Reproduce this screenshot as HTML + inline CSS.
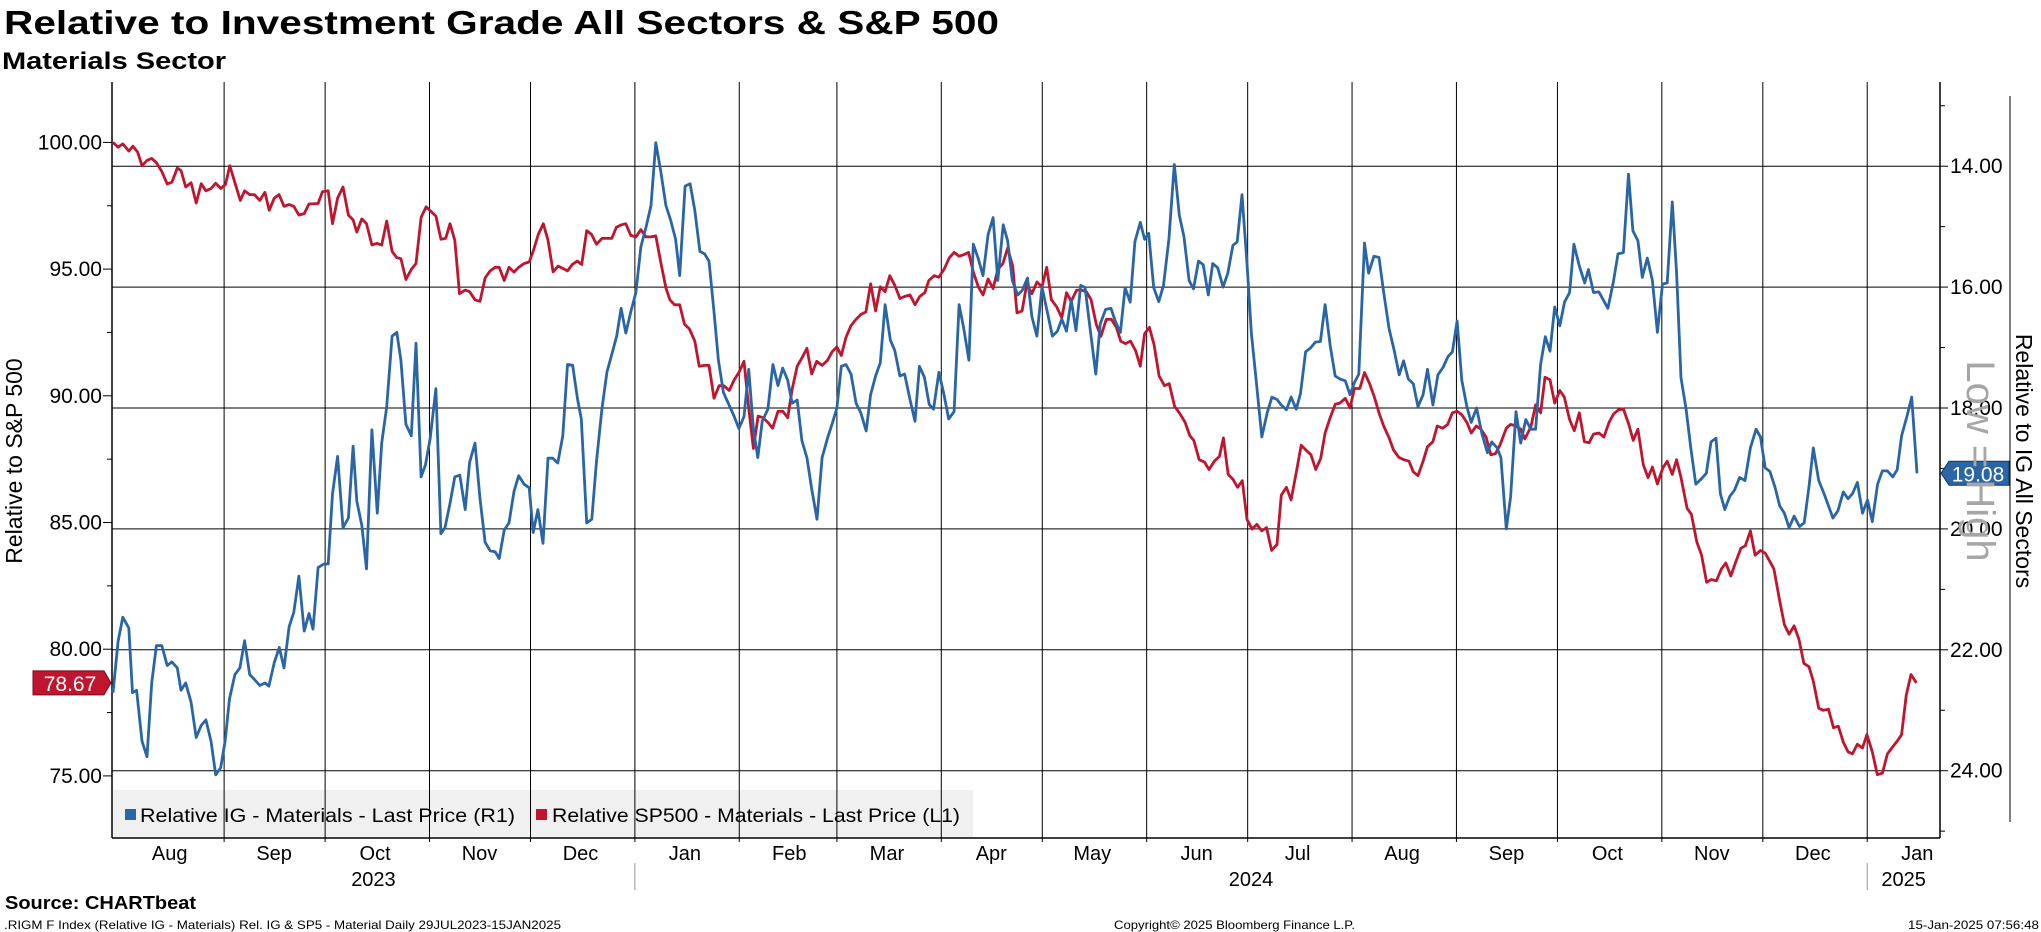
<!DOCTYPE html>
<html><head><meta charset="utf-8"><style>
html,body{margin:0;padding:0;background:#fff;}
svg{display:block;font-family:"Liberation Sans",sans-serif;}
</style></head><body>
<svg id="chart" width="2041" height="932" viewBox="0 0 2041 932" xmlns="http://www.w3.org/2000/svg">
<text x="4" y="34" font-size="33" font-weight="bold" textLength="995" lengthAdjust="spacingAndGlyphs">Relative to Investment Grade All Sectors &amp; S&amp;P 500</text>
<text x="2" y="69" font-size="24" font-weight="bold" textLength="224" lengthAdjust="spacingAndGlyphs">Materials Sector</text>
<rect x="113" y="790" width="860" height="47" fill="#f0f0f0"/>
<g id="grid"></g>
<g id="axes"></g>
<g id="series"></g>
<g>
<rect x="125" y="809" width="11" height="11" fill="#2a65a5"/>
<text x="140" y="822" font-size="19" textLength="375" lengthAdjust="spacingAndGlyphs">Relative IG - Materials - Last Price (R1)</text>
<rect x="536" y="809" width="11" height="11" fill="#c0152f"/>
<text x="552" y="822" font-size="19" textLength="408" lengthAdjust="spacingAndGlyphs">Relative SP500 - Materials - Last Price (L1)</text>
</g>
<text transform="translate(22,461) rotate(-90)" text-anchor="middle" font-size="23">Relative to S&amp;P 500</text>
<text transform="translate(2016,461) rotate(90)" text-anchor="middle" font-size="23">Relative to IG All Sectors</text>
<text transform="translate(1967,461) rotate(90)" text-anchor="middle" font-size="40" fill="#a6a6a6">Low = High</text>
<line x1="2010" y1="96" x2="2010" y2="822" stroke="#000" stroke-width="1"/>
<text x="5" y="909" font-size="18" font-weight="bold" textLength="191" lengthAdjust="spacingAndGlyphs">Source: CHARTbeat</text>
<text x="4" y="929" font-size="12" textLength="557" lengthAdjust="spacingAndGlyphs">.RIGM F Index (Relative IG - Materials) Rel. IG &amp; SP5 - Material  Daily 29JUL2023-15JAN2025</text>
<text x="1114" y="929" font-size="12" textLength="241" lengthAdjust="spacingAndGlyphs">Copyright© 2025 Bloomberg Finance L.P.</text>
<text x="1908" y="929" font-size="12" textLength="131" lengthAdjust="spacingAndGlyphs">15-Jan-2025 07:56:48</text>
</svg>
<script>
// Data: days since 2023-07-30, values
const blueDays = [0,1.5,2.9,4.7,5.8,7.0,8.6,10.1,11.5,12.9,14.5,16.1,17.5,19.1,20.2,21.6,23.2,24.7,26.2,27.6,29.1,30.5,32.0,33.3,34.6,36.2,37.7,39.1,40.6,42.0,43.6,45.1,46.3,47.9,49.4,50.8,52.3,53.7,55.2,56.8,58.2,59.4,60.9,62.6,63.9,65.2,66.7,68.3,69.9,71.3,72.4,73.9,75.3,76.9,78.5,79.8,81.3,82.9,84.3,85.5,87.0,88.6,90.0,91.5,92.8,94.2,95.9,97.4,98.6,100.1,101.5,103.0,104.6,105.9,107.5,109.0,110.5,112.0,113.5,114.7,116.2,117.6,119.1,120.5,122.1,123.6,124.8,126.2,127.7,129.2,130.6,132.1,133.6,135.0,136.5,138.0,139.1,140.7,142.2,143.6,145.2,146.7,148.1,149.6,150.9,152.3,153.8,155.3,156.8,158.3,159.8,161.2,162.7,164.2,165.6,167.1,168.3,169.9,171.4,172.8,174.3,175.7,177.0,178.5,179.8,181.3,182.9,184.5,185.9,187.4,188.8,190.2,191.5,192.8,194.5,196.0,197.5,198.9,200.4,201.7,203.2,204.6,206.1,207.5,209.1,210.6,212.2,213.6,215.0,216.3,217.7,219.2,220.7,222.1,223.7,225.0,226.5,227.9,229.3,230.9,232.2,233.7,235.1,236.7,238.2,239.5,241.0,242.4,243.7,245.3,246.8,248.2,249.8,251.3,252.7,254.2,255.5,257.0,258.4,259.9,261.4,262.8,264.4,265.7,267.1,268.7,270.1,271.6,272.9,274.4,275.9,277.5,279.0,280.5,281.8,283.2,284.6,286.0,287.4,288.7,290.3,291.9,293.2,294.8,296.4,297.7,299.2,300.6,302.1,303.5,305.1,306.4,307.6,309.1,310.6,312.0,313.6,315.2,316.7,318.1,319.6,320.9,322.4,323.8,325.3,326.6,328.1,329.7,331.1,332.6,333.9,335.3,336.8,338.1,339.6,341.2,342.8,344.2,345.7,347.0,348.5,349.9,351.4,352.7,354.2,355.6,357.1,358.6,360.0,361.5,363.0,364.4,366.0,367.4,368.7,370.0,371.7,372.9,374.5,376.0,377.4,379.0,380.5,382.0,383.3,384.7,386.2,387.6,389.1,390.4,392.0,393.5,395.0,396.5,397.8,399.2,400.6,402.1,403.4,405.0,406.6,408.2,409.5,411.1,412.2,413.8,415.1,416.7,418.1,419.6,421.1,422.5,424.0,425.4,426.8,428.2,429.7,431.1,432.6,433.9,435.5,437.1,438.2,439.7,441.3,444.0,445.6,447.0,448.6,450.1,451.4,452.9,454.2,455.7,457.2,458.7,460.2,461.6,463.1,464.4,465.7,467.2,468.6,470.1,471.6,473.2,474.6,476.1,477.4,478.7,480.2,481.6,483.1,484.7,486.3,488.0,489.3,490.7,492.1,493.6,495.0,496.4,497.8,499.3,500.9,502.3,503.7,505.0,506.6,508.0,509.4,510.8,512.3,513.9,515.3,516.6,518.1,519.6,521.1,522.5,524.1,525.5,527.0,528.6,529.9,531.2,532.8,534.2,535.8];
const blueValues = [22.71,21.86,21.46,21.64,22.71,22.67,23.51,23.77,22.55,21.93,21.93,22.26,22.20,22.30,22.67,22.55,22.87,23.45,23.25,23.16,23.51,24.07,23.95,23.51,22.81,22.41,22.30,21.85,22.41,22.49,22.59,22.55,22.60,22.21,21.96,22.30,21.62,21.38,20.78,21.69,21.40,21.66,20.64,20.58,20.58,19.42,18.80,19.98,19.82,18.63,19.54,19.94,20.66,18.36,19.74,18.58,17.98,16.81,16.75,17.21,18.27,18.46,16.93,19.14,18.94,18.50,17.68,20.08,19.98,19.58,19.14,19.11,19.68,18.90,18.58,19.50,20.22,20.36,20.38,20.49,20.02,19.90,19.38,19.12,19.26,19.32,20.06,19.68,20.24,18.83,18.83,18.91,18.46,17.28,17.29,17.86,18.18,19.90,19.84,18.88,18.02,17.41,17.12,16.81,16.35,16.76,16.41,16.09,15.33,15.01,14.65,13.61,14.09,14.65,14.89,15.21,15.81,14.33,14.29,14.73,15.41,15.45,15.57,16.41,17.21,17.74,17.94,18.14,18.34,18.14,17.36,18.34,18.82,18.22,18.02,17.28,17.63,17.34,17.54,17.92,17.87,18.54,18.82,19.34,19.84,18.82,18.50,18.26,18.00,17.31,17.28,17.44,17.92,18.08,18.38,17.78,17.47,17.25,16.29,16.88,17.05,17.47,17.44,17.86,18.22,17.31,17.49,17.94,18.02,17.41,17.78,18.18,18.06,16.29,16.69,17.21,15.29,15.53,15.81,15.13,14.85,15.89,14.97,15.23,15.89,16.13,16.05,15.85,16.49,16.81,16.00,16.41,16.81,16.73,16.53,16.73,16.21,16.72,15.97,16.01,16.73,17.44,16.61,16.37,16.35,16.57,16.75,16.01,16.25,15.25,14.93,15.21,15.11,16.01,16.24,15.97,15.21,13.97,14.81,15.17,15.89,16.03,15.57,15.63,16.13,15.61,15.68,16.00,15.77,15.31,15.25,14.47,15.61,16.77,17.58,18.48,18.08,17.82,17.86,17.95,18.03,17.82,18.02,17.76,17.07,17.01,16.91,16.90,16.29,16.97,17.47,17.52,17.55,17.78,17.58,17.44,15.27,15.77,15.49,15.51,16.09,16.69,17.04,17.45,17.22,17.52,17.60,17.98,17.78,17.36,17.95,17.45,17.33,17.15,17.07,16.56,17.54,17.98,18.24,18.00,18.43,18.74,18.56,18.66,18.82,20.00,19.47,18.06,18.58,18.19,18.35,18.35,17.28,16.82,17.06,16.33,16.64,16.25,16.09,15.29,15.65,15.93,15.71,16.09,16.08,16.35,15.92,15.45,15.43,14.13,15.07,15.23,15.84,15.52,15.89,16.75,15.95,15.93,14.59,15.77,17.50,18.02,18.66,19.26,19.18,19.08,18.56,18.50,19.42,19.68,19.46,19.36,19.15,19.20,18.66,18.35,18.48,18.99,19.05,19.31,19.62,19.74,19.98,19.79,19.96,19.90,19.30,18.66,19.20,19.39,19.60,19.82,19.70,19.39,19.50,19.42,19.23,19.74,19.52,19.88,19.26,19.04,19.04,19.14,19.02,18.46,18.14,17.82,19.08];
const redDays = [0,1.5,2.9,4.7,5.9,7.3,8.6,10.1,11.5,12.9,14.5,16.1,17.5,19.1,20.2,21.6,23.2,24.7,26.2,27.6,29.1,30.5,32.0,33.4,34.7,36.3,37.8,39.1,40.6,42.0,43.6,45.1,46.4,47.9,49.3,50.8,52.3,53.7,55.2,56.8,58.2,60.9,62.2,63.9,65.2,66.7,68.3,69.9,71.3,72.4,73.9,75.3,76.9,78.4,79.8,81.3,82.9,84.3,85.5,87.0,88.6,90.0,91.5,93.0,94.4,95.9,97.4,98.8,100.1,101.5,102.9,104.6,105.9,107.5,109.0,110.5,112.0,113.5,114.7,116.2,117.6,119.1,120.5,122.1,123.6,124.9,126.3,127.8,129.2,130.7,132.2,133.5,135.0,136.4,137.9,139.2,140.7,142.1,143.6,145.2,146.6,148.1,149.5,151.0,152.3,153.8,155.3,156.8,158.3,159.8,161.2,162.7,164.2,165.4,166.8,168.3,169.7,171.2,172.8,174.1,175.7,177.0,178.5,180.0,181.4,183.0,184.5,185.9,187.4,188.8,190.2,191.6,193.0,194.5,195.9,197.5,198.9,200.4,201.7,203.2,204.6,206.1,207.5,209.0,210.6,212.2,213.6,215.0,216.3,217.7,219.2,220.7,222.1,223.6,225.0,226.5,227.9,229.3,230.7,232.2,233.7,235.1,236.7,238.2,239.6,241.1,242.3,243.9,245.3,246.8,248.4,249.8,251.3,252.7,254.1,255.5,257.0,258.4,259.9,261.4,262.8,264.3,265.7,267.2,268.5,270.0,271.4,272.9,274.4,275.9,277.3,278.7,280.3,281.8,283.2,284.6,286.2,287.6,289.1,290.5,292.0,293.4,295.0,296.5,298.0,299.3,300.7,302.2,303.7,305.1,306.4,307.8,309.2,310.7,312.3,313.7,315.3,316.9,318.4,319.8,321.0,322.6,324.2,325.5,327.1,328.6,329.8,331.2,332.6,334.0,335.4,336.8,338.3,339.7,341.2,342.6,344.1,345.7,347.0,348.5,349.9,351.4,352.9,354.3,355.8,357.2,358.7,360.0,361.5,363.0,364.4,366.0,367.4,368.7,370.3,371.7,373.2,374.6,376.1,377.4,379.0,380.3,381.9,383.4,384.9,386.2,387.6,389.1,390.4,392.0,393.3,394.9,396.4,397.8,399.2,400.6,402.1,403.4,404.9,406.3,407.8,409.2,410.6,411.9,413.8,415.1,416.7,418.1,419.3,421.1,422.5,424.0,425.3,426.8,428.2,429.7,431.0,432.6,434.0,435.5,437.0,438.4,439.7,441.3,442.8,444.3,445.7,447.2,448.6,450.2,451.5,452.9,454.5,455.9,457.2,458.7,460.3,461.6,463.1,464.4,465.7,467.5,468.8,470.4,471.8,473.3,474.7,476.2,477.7,479.0,480.5,482.0,483.5,484.8,486.3,487.7,489.3,490.7,492.1,493.3,494.9,496.4,497.8,499.3,500.7,502.2,503.7,505.0,506.6,508.0,509.5,511.0,512.4,513.9,515.3,516.6,518.1,519.6,520.9,522.5,524.0,525.5,527.0,528.5,530.0,531.2,532.6,534.0,535.6];
const redValues = [100.0,99.81,99.94,99.66,99.85,99.62,99.08,99.29,99.37,99.20,98.85,98.36,98.43,98.99,98.89,98.24,98.41,97.61,98.37,98.09,98.18,98.39,98.18,98.34,99.08,98.37,97.71,98.09,97.94,97.94,97.71,98.03,97.32,97.80,97.94,97.48,97.55,97.48,97.13,97.19,97.57,97.59,98.05,98.09,96.79,97.80,98.24,97.13,96.94,96.46,96.98,96.79,95.95,96.02,95.95,96.90,95.70,95.45,95.41,94.59,94.99,95.22,97.04,97.46,97.28,97.09,96.18,96.21,96.79,96.14,94.03,94.17,94.11,93.79,93.73,94.65,94.93,95.07,95.07,94.55,95.07,94.88,95.07,95.22,95.28,95.74,96.37,96.79,96.14,94.89,95.12,95.03,94.93,95.18,95.32,95.18,96.52,96.37,95.98,96.21,96.21,96.21,96.65,96.75,96.79,96.33,96.27,96.56,96.27,96.27,96.31,95.26,94.26,93.79,93.59,93.59,92.83,92.64,92.16,91.17,91.20,91.20,89.90,90.40,90.40,90.21,90.63,90.92,91.36,89.52,87.92,89.20,89.14,88.95,88.72,89.39,89.39,89.14,90.25,91.17,91.49,91.87,90.86,91.36,91.20,91.40,91.74,91.93,91.59,92.31,92.77,93.02,93.21,93.31,94.42,93.35,94.30,94.11,94.74,94.36,93.84,93.92,93.98,93.59,93.92,94.07,94.55,94.74,94.68,94.99,95.45,95.66,95.51,95.57,95.66,94.88,94.30,93.98,94.61,94.23,94.99,95.22,95.83,95.12,93.27,93.35,94.42,94.03,94.49,94.30,95.07,93.79,93.50,93.08,94.07,93.73,94.17,94.17,94.11,93.79,92.83,92.35,93.02,93.02,92.70,92.16,92.06,92.16,91.78,91.17,92.45,92.70,92.01,90.78,90.40,90.48,89.58,89.29,88.95,88.43,88.24,87.48,87.38,87.09,87.42,87.61,88.34,86.90,86.71,86.39,86.65,85.12,84.74,84.93,84.67,84.80,83.90,84.13,86.08,86.39,85.89,86.96,88.05,87.86,87.67,87.09,87.53,88.53,89.14,89.67,89.71,89.90,89.52,90.29,90.29,90.92,90.48,89.96,89.29,88.81,88.34,87.86,87.57,87.48,87.42,87.00,86.85,87.42,87.99,88.19,88.81,88.72,88.87,89.33,89.39,89.25,88.95,88.53,88.81,88.68,88.37,87.67,87.72,88.05,88.72,88.87,88.81,88.68,88.30,88.76,89.64,89.33,90.73,90.63,89.71,90.21,89.96,89.06,88.62,89.33,88.19,88.15,88.49,88.53,88.37,88.95,89.29,89.45,89.48,88.87,88.24,88.68,87.28,86.77,87.19,86.52,87.15,87.42,86.90,87.48,86.77,85.56,85.32,84.23,83.71,82.64,82.75,82.70,83.17,83.40,82.89,83.46,83.98,84.08,84.67,83.71,83.90,83.79,83.46,83.17,81.99,80.97,80.59,80.92,80.40,79.44,79.31,78.74,77.67,77.59,77.63,76.90,76.96,76.33,75.95,75.87,76.25,76.10,76.63,75.95,75.05,75.11,75.87,76.14,76.39,76.63,78.20,79.00,78.67];
const leftTicks = [75,80,85,90,95,100];
const rightTicks = [14,16,18,20,22,24];
const monthNames = ["Aug","Sep","Oct","Nov","Dec","Jan","Feb","Mar","Apr","May","Jun","Jul","Aug","Sep","Oct","Nov","Dec","Jan"];
const yearLabels = ["2023","2024","2025"];

const NS = "http://www.w3.org/2000/svg";
const L = 112, R = 1940, TOP = 82, BOT = 838;
const x = d => 113 + d * 3.367;
const yL = v => 142.4 + (100 - v) * 25.34;
const yR = v => 166.2 + (v - 14) * 60.45;
const t0 = Date.UTC(2023, 6, 30);
const dayOf = (y, m) => (Date.UTC(y, m, 1) - t0) / 86400000;
function el(tag, attrs, parent) {
  const e = document.createElementNS(NS, tag);
  for (const k in attrs) e.setAttribute(k, attrs[k]);
  parent.appendChild(e);
  return e;
}
const grid = document.getElementById('grid');
const axes = document.getElementById('axes');
const series = document.getElementById('series');

// horizontal gridlines (right axis majors)
rightTicks.forEach(v => {
  const g = el('line', {x1: L, x2: R, y1: yR(v), y2: yR(v), stroke: '#000', 'stroke-width': 1}, grid);
  
  
  const t = el('line', {x1: R, x2: R + 8, y1: yR(v), y2: yR(v), stroke: '#000', 'stroke-width': 1}, axes);
  
  
  const lb = el('text', {x: 1950, y: yR(v) + 7, 'font-size': 21}, axes);
  lb.textContent = v.toFixed(2);
  
  
  const mt = el('line', {x1: R, x2: R + 5, y1: yR(v - 1), y2: yR(v - 1), stroke: '#000', 'stroke-width': 1}, axes);
  
  
});
const mt2 = el('line', {x1: R, x2: R + 5, y1: yR(25), y2: yR(25), stroke: '#000', 'stroke-width': 1}, axes);



leftTicks.forEach(v => {
  const t = el('line', {x1: L - 9, x2: L, y1: yL(v), y2: yL(v), stroke: '#000', 'stroke-width': 1}, axes);
  
  
  const lb = el('text', {x: 102, y: yL(v) + 7, 'font-size': 21, 'text-anchor': 'end'}, axes);
  lb.textContent = v.toFixed(2);
  
  
  if (v < 100) {
    const m = el('line', {x1: L - 5, x2: L, y1: yL(v + 2.5), y2: yL(v + 2.5), stroke: '#000', 'stroke-width': 1}, axes);
    
    
  }
});

// month gridlines and labels
for (let i = 0; i < monthNames.length; i++) {
  const yr = 2023 + Math.floor((7 + i) / 12);
  const mo = (7 + i) % 12;
  const ds = dayOf(yr, mo);
  const xs = x(ds);
  if (i > 0) {
    const g = el('line', {x1: xs, x2: xs, y1: TOP, y2: BOT + 4, stroke: '#000', 'stroke-width': 1}, grid);
    
    
  }
  const lb = el('text', {x: xs + 50, y: 860, 'font-size': 20, 'text-anchor': 'middle'}, axes);
  lb.textContent = monthNames[i];
  
  
}
const jan24 = x(dayOf(2024, 0)), jan25 = x(dayOf(2025, 0));
const yearPos = [(L + jan24) / 2, (jan24 + jan25) / 2, (jan25 + R) / 2];
yearLabels.forEach((yl, i) => {
  const t = el('text', {x: yearPos[i], y: 886, 'font-size': 20, 'text-anchor': 'middle'}, axes);
  t.textContent = yl;
  
  
});
[jan24, jan25].forEach(xs => {
  const s = el('line', {x1: xs, x2: xs, y1: 863, y2: 890, stroke: '#999', 'stroke-width': 1}, axes);
  
  
});

// axis lines
const la = el('line', {x1: L, x2: L, y1: TOP, y2: BOT, stroke: '#000', 'stroke-width': 1.5}, axes);


const ra = el('line', {x1: R, x2: R, y1: TOP, y2: BOT, stroke: '#000', 'stroke-width': 1.5}, axes);


const ba = el('line', {x1: L, x2: R, y1: BOT, y2: BOT, stroke: '#000', 'stroke-width': 1.5}, axes);



// series
function path(days, vals, yf) {
  return days.map((d, i) => (i ? 'L' : 'M') + x(d).toFixed(1) + ',' + yf(vals[i]).toFixed(1)).join('');
}
const pr = el('path', {d: path(redDays, redValues, yL), fill: 'none', stroke: '#c0152f', 'stroke-width': 2.8, 'stroke-linejoin': 'round'}, series);


const pb = el('path', {d: path(blueDays, blueValues, yR), fill: 'none', stroke: '#2a65a5', 'stroke-width': 2.8, 'stroke-linejoin': 'round'}, series);



// last value tags
const lastR = redValues[redValues.length - 1];
const yr0 = yL(lastR);
const tr = el('path', {d: `M33,${yr0-12}H104L111,${yr0}L104,${yr0+12}H33Z`, fill: '#c0152f', stroke: '#7a0a1a', 'stroke-width': 1}, series);


const trt = el('text', {x: 70, y: yr0 + 8, 'font-size': 21, fill: '#fff', 'text-anchor': 'middle'}, series);
trt.textContent = lastR.toFixed(2);


const lastB = blueValues[blueValues.length - 1];
const yb0 = yR(lastB);
const tb = el('path', {d: `M1941,${yb0}L1949,${yb0-12}H2009V${yb0+12}H1949Z`, fill: '#2a65a5', stroke: '#123a66', 'stroke-width': 1}, series);


const tbt = el('text', {x: 1978, y: yb0 + 8, 'font-size': 21, fill: '#fff', 'text-anchor': 'middle'}, series);
tbt.textContent = lastB.toFixed(2);


</script>
</body></html>
